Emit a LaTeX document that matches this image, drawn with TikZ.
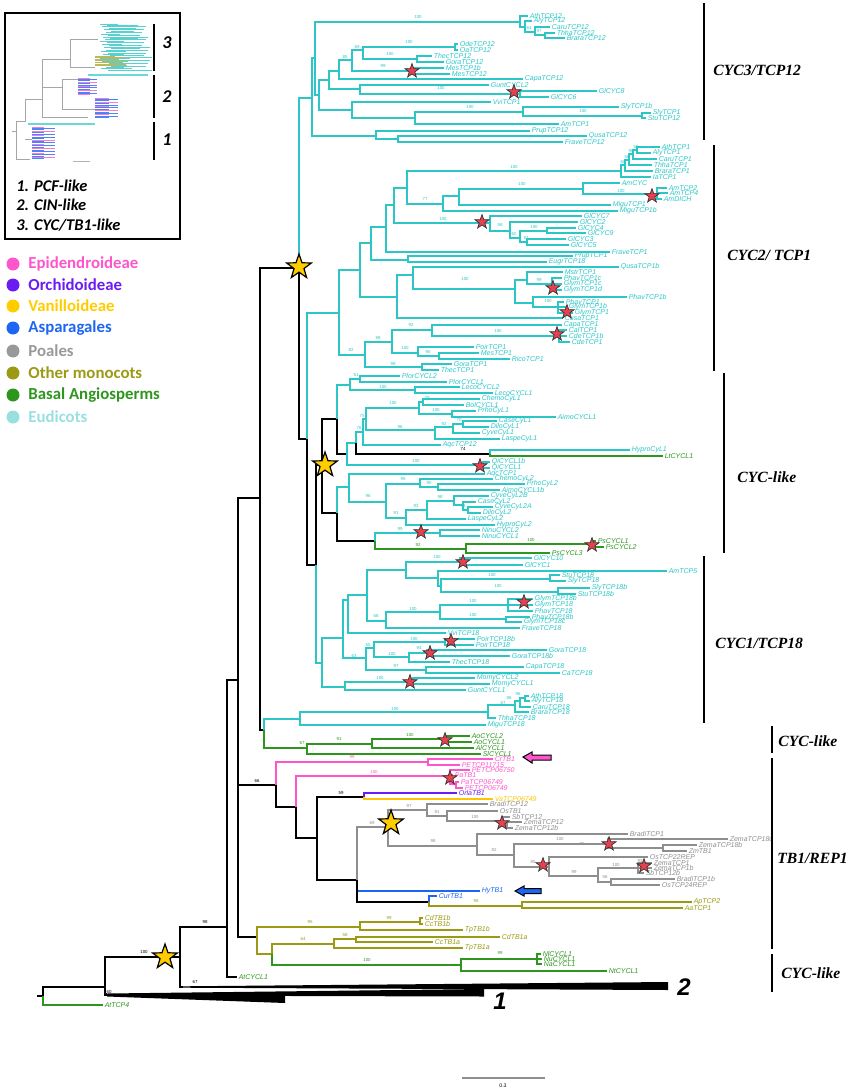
\documentclass[tikz,border=0pt]{standalone}
\usepackage{fontspec}
\setmainfont{Liberation Serif}
\setsansfont{Liberation Sans}
\newfontfamily\calib{Carlito}
\usetikzlibrary{shapes.geometric}
\definecolor{ccy}{HTML}{2CC6C6}
\definecolor{cgr}{HTML}{2E961E}
\definecolor{col}{HTML}{9C9A14}
\definecolor{cpk}{HTML}{FF55CC}
\definecolor{cpu}{HTML}{6A1CF2}
\definecolor{cgo}{HTML}{FFC400}
\definecolor{cbl}{HTML}{1C66F2}
\definecolor{cgy}{HTML}{8E8E8E}
\definecolor{ceu}{HTML}{9ADFDF}
\definecolor{cpoa}{HTML}{999999}
\definecolor{starred}{HTML}{E8404E}
\definecolor{staryel}{HTML}{FFCC00}
\newcount\bsc
\newcommand\TIn[5]{\coordinate (#1) at (#3,#4);\draw[br,draw=#5] (#2) |- (#1);}
\newcommand\TLf[6]{\coordinate (#1) at (#3,#4);\draw[br,draw=#5] (#2) |- (#1);\node[lab,text=#5] (#1t) at (#1) {#6};}
\newcommand\TBs[4]{\global\advance\bsc by 1\relax\node[bsl,text=#4] (bs\the\bsc) at (#1,#2) {#3};}
\newcommand\TRs[3]{\node[rstar] (#1) at (#2,#3) {};}
\newcommand\TYs[3]{\node[ystar] (#1) at (#2,#3) {};}
\tikzset{
 br/.style={line width=1.1pt},
 lab/.style={font=\sffamily\itshape\fontsize{3.5}{4}\selectfont, anchor=west, inner sep=0.7pt},
 bsl/.style={font=\sffamily\fontsize{2.2}{2.5}\selectfont, inner sep=0pt},
 rstar/.style={star, star points=5, star point ratio=2.5, fill=starred, draw=black!80, line width=0.35pt, minimum size=7.4pt, inner sep=0pt},
 ystar/.style={star, star points=5, star point ratio=2.5, fill=staryel, draw=black, line width=0.6pt, minimum size=13pt, inner sep=0pt},
 clade/.style={font=\rmfamily\bfseries\itshape\fontsize{7.8}{9}\selectfont, anchor=west, inner sep=0pt},
 cbar/.style={line width=1.3pt},
 legt/.style={font=\calib\bfseries\fontsize{8.4}{9}\selectfont, anchor=west, inner sep=0pt},
 inst/.style={font=\calib\bfseries\itshape\fontsize{8.2}{9}\selectfont, anchor=west, inner sep=0pt},
 bignum/.style={font=\sffamily\bfseries\itshape\fontsize{12}{13}\selectfont, inner sep=0pt},
}
\begin{document}
\begin{tikzpicture}[x=0.5pt,y=-0.5pt]
\useasboundingbox (0,0) rectangle (850,1091);
% ---------------- inset ----------------
\node[draw=black, line width=0.9pt, minimum width=87.5pt, minimum height=113pt, inner sep=0pt, anchor=north west] (inset) at (4,12) {};
\begin{scope}
\foreach \i in {0,...,32} {\pgfmathsetmacro\yy{24+\i*1.45}\pgfmathsetmacro\xs{100+mod(\i*7,12)}\pgfmathsetmacro\ll{18+mod(\i*13,30)}
 \draw[ccy!80, line width=0.45pt] (\xs,\yy) -- ++(\ll,0);}
\foreach \i in {0,...,6} {\pgfmathsetmacro\yy{56+\i*1.6}\pgfmathsetmacro\ll{20+mod(\i*11,18)}
 \draw[col!70, line width=0.45pt] (95,\yy) -- ++(\ll,0);}
\draw[ccy!70, line width=0.6pt] (88,75) -- (148,75);
\foreach \i in {0,...,12} {\pgfmathsetmacro\yy{78+\i*1.4}\pgfmathsetmacro\ll{12+mod(\i*7,14)}\pgfmathsetmacro\cc{mod(\i,3)}
 \ifdim\cc pt<1pt \draw[cpk!80, line width=0.45pt] (78,\yy) -- ++(\ll,0); \else \draw[cbl!80, line width=0.45pt] (78,\yy) -- ++(\ll,0); \fi}
\foreach \i in {0,...,14} {\pgfmathsetmacro\yy{98+\i*1.4}\pgfmathsetmacro\ll{14+mod(\i*9,18)}\pgfmathsetmacro\cc{mod(\i,3)}
 \ifdim\cc pt<1pt \draw[cpk!80, line width=0.45pt] (95,\yy) -- ++(\ll,0); \else \draw[cbl!80, line width=0.45pt] (95,\yy) -- ++(\ll,0); \fi}
\draw[ccy!70, line width=0.6pt] (28,124) -- (95,124);
\foreach \i in {0,...,22} {\pgfmathsetmacro\yy{127+\i*1.45}\pgfmathsetmacro\ll{12+mod(\i*11,22)}\pgfmathsetmacro\cc{mod(\i,3)}
 \ifdim\cc pt<1pt \draw[cpk!80, line width=0.45pt] (32,\yy) -- ++(\ll,0); \else \draw[cbl!80, line width=0.45pt] (32,\yy) -- ++(\ll,0); \fi}
\draw[gray!70, line width=0.5pt] (12,132) -- (16,132) (16,122) -- (16,160) (16,160) -- (30,160) (16,122) -- (25,122)
 (25,100) -- (25,122) (25,100) -- (42,100) (42,60) -- (42,118) (42,118) -- (88,118) (42,88) -- (62,88) (62,80) -- (62,110)
 (62,80) -- (78,80) (62,110) -- (95,110) (42,60) -- (70,60) (70,40) -- (70,68) (70,40) -- (98,40) (70,68) -- (95,68)
 (25,140) -- (32,140);
\draw[gray!60, line width=0.5pt] (73,162) -- (90,162);
\end{scope}
\coordinate (ib3a) at (154,24); \coordinate (ib3b) at (154,71);
\coordinate (ib2a) at (154,75); \coordinate (ib2b) at (154,118);
\coordinate (ib1a) at (154,122); \coordinate (ib1b) at (154,160);
\draw[line width=1pt] (ib3a) -- (ib3b); \draw[line width=1pt] (ib2a) -- (ib2b); \draw[line width=1pt] (ib1a) -- (ib1b);
\node[inst, font=\calib\bfseries\itshape\fontsize{9}{10}\selectfont] (in3) at (162,43) {3};
\node[inst, font=\calib\bfseries\itshape\fontsize{9}{10}\selectfont] (in2) at (162,97) {2};
\node[inst, font=\calib\bfseries\itshape\fontsize{9}{10}\selectfont] (in1) at (162,140) {1};
\node[inst] (it1) at (16,186) {1. PCF-like};
\node[inst] (it2) at (16,205) {2. CIN-like};
\node[inst] (it3) at (16,225) {3. CYC/TB1-like};
% ---------------- legend ----------------
\foreach \yy/\cc/\tt/\nm in {264/cpk/Epidendroideae/lg1, 285/cpu/Orchidoideae/lg2, 306/staryel/Vanilloideae/lg3, 328/cbl/Asparagales/lg4, 351/cpoa/Poales/lg5, 373/col/Other monocots/lg6, 395/cgr/Basal Angiosperms/lg7, 417/ceu/Eudicots/lg8} {
 \fill[\cc] (13,\yy) circle (6.5);
 \node[legt, text=\cc] (\nm) at (28,\yy) {\tt};
}
% ---------------- backbone ----------------
\coordinate (R0) at (43,996); \coordinate (R0s) at (37,996);
\draw[br] (R0s) -- (R0);
\TIn{N1}{R0}{105}{987}{black}
\TLf{AtTCP4}{R0}{103}{1005}{cgr}{AtTCP4}
\coordinate (W1) at (107,994.5);
\draw[br] (N1) |- (W1);
\fill (107,993.5) -- (484,989) -- (484,996.5) -- (107,995.5) -- cycle;
\fill (107,995) -- (285,994) -- (285,1003) -- (107,996.5) -- cycle;
\node[bignum] (n1lab) at (500,1001) {1};
\TIn{N3}{N1}{180}{957}{black}
\coordinate (W2) at (183,987);
\draw[br] (N3) |- (W2);
\fill (183,986.3) -- (668,982) -- (668,990) -- (183,987.7) -- cycle;
\node[bignum] (n2lab) at (684,987) {2};
\TIn{N4}{N3}{227}{927}{black}
\coordinate (AtCYCL1) at (237,977);
\draw[br] (N4) |- (AtCYCL1);
\node[lab,text=cgr] (AtCYCL1t) at (AtCYCL1) {AtCYCL1};
\TIn{N5}{N4}{238}{680}{black}
\TIn{N6}{N5}{260}{498}{black}
\TIn{N7}{N5}{276}{785}{black}
\TIn{N8}{N5}{257}{937}{black}
\TIn{N9}{N6}{299}{268}{black}
\TIn{N10}{N6}{264}{730}{black}
\TIn{R3}{N9}{312}{98}{ccy}
\TIn{N11}{N9}{307}{439}{black}
\TIn{C2}{N11}{339}{313}{ccy}
\TIn{N12}{N11}{316}{565}{black}
\TIn{N13}{N12}{322}{465}{black}
\TIn{N14}{N12}{322}{663}{ccy}
\TBs{205}{922}{98}{black}\TBs{144}{952}{100}{black}\TBs{195}{982}{67}{black}\TBs{109}{992}{60}{black}
\TBs{257}{781}{66}{black}\TBs{341}{793}{59}{black}\TBs{463}{449}{74}{black}
% ---------------- CYC3/TCP12 ----------------
\TIn{Q1}{R3}{315}{58}{ccy}
\TIn{T1}{Q1}{520}{22}{ccy}
\TLf{AthTCP12}{T1}{528}{16}{ccy}{AthTCP12}
\TIn{T1b}{T1}{525}{27}{ccy}
\TLf{AlyTCP12}{T1b}{532}{21}{ccy}{AlyTCP12}
\TIn{T1c}{T1b}{535}{32}{ccy}
\TLf{CaruTCP12}{T1c}{550}{27}{ccy}{CaruTCP12}
\TIn{T1d}{T1c}{545}{35}{ccy}
\TLf{ThhaTCP12}{T1d}{555}{33}{ccy}{ThhaTCP12}
\TLf{BraraTCP12}{T1d}{565}{38}{ccy}{BraraTCP12}
\TIn{M}{Q1}{319}{95}{ccy}
\TIn{A}{M}{329}{80}{ccy}
\TIn{A1}{A}{339}{71}{ccy}
\TIn{A11}{A1}{352}{60}{ccy}
\TIn{A111}{A11}{363}{50}{ccy}
\TIn{Ode}{A111}{455}{47}{ccy}
\TLf{OdeTCP12}{Ode}{458}{44}{ccy}{OdeTCP12}
\TLf{OaTCP12}{Ode}{458}{50}{ccy}{OaTCP12}
\TIn{Thec}{A111}{417}{59}{ccy}
\TLf{ThecTCP12}{Thec}{432}{56}{ccy}{ThecTCP12}
\TLf{GoraTCP12}{Thec}{444}{62}{ccy}{GoraTCP12}
\TIn{Mes}{A11}{412}{71}{ccy}
\TLf{MesTCP1b}{Mes}{444}{68}{ccy}{MesTCP1b}
\TLf{MesTCP12}{Mes}{450}{74}{ccy}{MesTCP12}
\TLf{CapaTCP12}{A1}{523}{79}{ccy}{CapaTCP12}
\TIn{A2}{A}{360}{89}{ccy}
\TLf{GuntCYCL2}{A2}{489}{85}{ccy}{GuntCYCL2}
\TIn{Gl3}{A2}{520}{94}{ccy}
\TLf{GlCYC8}{Gl3}{597}{91}{ccy}{GlCYC8}
\TLf{GlCYC6}{Gl3}{549}{97}{ccy}{GlCYC6}
\TIn{B}{M}{352}{110}{ccy}
\TLf{VviTCP1}{B}{491}{102}{ccy}{VviTCP1}
\TIn{B2}{B}{415}{118}{ccy}
\TIn{B21}{B2}{523}{112}{ccy}
\TLf{SlyTCP1b}{B21}{619}{107}{ccy}{SlyTCP1b}
\TIn{B211}{B21}{642}{116}{ccy}
\TLf{SlyTCP1}{B211}{651}{113}{ccy}{SlyTCP1}
\TLf{StuTCP12}{B211}{646}{118}{ccy}{StuTCP12}
\TLf{AmTCP1}{B2}{559}{124}{ccy}{AmTCP1}
\TIn{P}{R3}{376}{136}{ccy}
\TLf{PrupTCP12}{P}{530}{131}{ccy}{PrupTCP12}
\TIn{P2}{P}{398}{139}{ccy}
\TLf{QusaTCP12}{P2}{587}{136}{ccy}{QusaTCP12}
\TLf{FraveTCP12}{P2}{563}{142}{ccy}{FraveTCP12}
\TBs{418}{17}{100}{ccy}\TBs{345}{57}{85}{ccy}\TBs{357}{47}{69}{ccy}\TBs{409}{42}{100}{ccy}\TBs{390}{54}{100}{ccy}
\TBs{383}{66}{99}{ccy}\TBs{441}{88}{100}{ccy}\TBs{470}{107}{100}{ccy}\TBs{583}{111}{100}{ccy}\TBs{529}{28}{64}{ccy}\TBs{539}{31}{97}{ccy}
% ---------------- CYC2/TCP1 ----------------
\TIn{C2a}{C2}{360}{270}{ccy}
\TIn{C2a1}{C2a}{371}{243}{ccy}
\TIn{C2a11}{C2a1}{386}{227}{ccy}
\TIn{C2a111}{C2a11}{394}{205}{ccy}
\TIn{C3x}{C2a111}{407}{188}{ccy}
\TIn{AthG}{C3x}{621}{171}{ccy}
\TIn{Ra}{AthG}{625}{165}{ccy}
\TIn{Rb}{Ra}{629}{160}{ccy}
\TIn{Rc}{Rb}{633}{154}{ccy}
\TIn{Rd}{Rc}{637}{150}{ccy}
\TLf{AthTCP1}{Rd}{660}{147}{ccy}{AthTCP1}
\TLf{AlyTCP1}{Rd}{651}{153}{ccy}{AlyTCP1}
\TLf{CaruTCP1}{Rc}{657}{159}{ccy}{CaruTCP1}
\TLf{ThhaTCP1}{Rb}{652}{165}{ccy}{ThhaTCP1}
\TLf{BraraTCP1}{Ra}{653}{171}{ccy}{BraraTCP1}
\TLf{IaTCP1}{AthG}{651}{177}{ccy}{IaTCP1}
\TIn{AmG}{C3x}{443}{204}{ccy}
\TIn{Am1}{AmG}{459}{196}{ccy}
\TIn{Am2}{Am1}{583}{189}{ccy}
\TLf{AmCYC}{Am2}{620}{183}{ccy}{AmCYC}
\TIn{Am3}{Am2}{657}{194}{ccy}
\TLf{AmTCP2}{Am3}{667}{188}{ccy}{AmTCP2}
\TLf{AmTCP4}{Am3}{668}{193}{ccy}{AmTCP4}
\TLf{AmDICH}{Am3}{662}{199}{ccy}{AmDICH}
\TLf{MiguTCP1}{Am1}{611}{205}{ccy}{MiguTCP1}
\TLf{MiguTCP1b}{AmG}{618}{211}{ccy}{MiguTCP1b}
\TIn{Gl}{C2a111}{490}{223}{ccy}
\TLf{GlCYC7}{Gl}{582}{216}{ccy}{GlCYC7}
\TIn{G2}{Gl}{510}{231}{ccy}
\TLf{GlCYC2}{G2}{578}{222}{ccy}{GlCYC2}
\TIn{G2y}{G2}{520}{238}{ccy}
\TIn{G2b}{G2y}{547}{231}{ccy}
\TLf{GlCYC4}{G2b}{576}{228}{ccy}{GlCYC4}
\TLf{GlCYC9}{G2b}{586}{233}{ccy}{GlCYC9}
\TIn{G2c}{G2y}{527}{242}{ccy}
\TLf{GlCYC3}{G2c}{566}{239}{ccy}{GlCYC3}
\TLf{GlCYC5}{G2c}{569}{245}{ccy}{GlCYC5}
\TLf{FraveTCP1}{C2a11}{610}{252}{ccy}{FraveTCP1}
\TIn{Pr}{C2a1}{408}{260}{ccy}
\TLf{PrupTCP1}{Pr}{573}{256}{ccy}{PrupTCP1}
\TLf{EugrTCP18}{Pr}{547}{262}{ccy}{EugrTCP18}
\TIn{C2a2}{C2a}{397}{297}{ccy}
\TIn{Q}{C2a2}{413}{275}{ccy}
\TLf{QusaTCP1b}{Q}{619}{267}{ccy}{QusaTCP1b}
\TIn{F}{Q}{515}{289}{ccy}
\TIn{F1}{F}{527}{280}{ccy}
\TLf{MstrTCP1}{F1}{563}{272}{ccy}{MstrTCP1}
\TIn{F11}{F1}{552}{284}{ccy}
\TLf{PhavTCP1c}{F11}{562}{278}{ccy}{PhavTCP1c}
\TLf{GlymTCP1c}{F11}{562}{284}{ccy}{GlymTCP1c}
\TLf{GlymTCP1d}{F11}{562}{290}{ccy}{GlymTCP1d}
\TIn{F2}{F}{533}{303}{ccy}
\TLf{PhavTCP1b}{F2}{627}{297}{ccy}{PhavTCP1b}
\TIn{F21}{F2}{558}{307}{ccy}
\TLf{PhavTCP1}{F21}{564}{302}{ccy}{PhavTCP1}
\TLf{GlymTCP1b}{F21}{567}{307}{ccy}{GlymTCP1b}
\TLf{GlymTCP1}{F21}{573}{313}{ccy}{GlymTCP1}
\TLf{CusaTCP1}{C2a2}{563}{318}{ccy}{CusaTCP1}
\TIn{C2b}{C2}{365}{355}{ccy}
\TIn{C2b1}{C2b}{392}{342}{ccy}
\TIn{Cp}{C2b1}{432}{330}{ccy}
\TLf{CapaTCP1}{Cp}{562}{325}{ccy}{CapaTCP1}
\TIn{Cal}{Cp}{559}{336}{ccy}
\TLf{CalTCP1}{Cal}{567}{330}{ccy}{CalTCP1}
\TLf{CdeTCP1b}{Cal}{567}{336}{ccy}{CdeTCP1b}
\TLf{CdeTCP1}{Cal}{570}{342}{ccy}{CdeTCP1}
\TIn{Po}{C2b1}{418}{353}{ccy}
\TLf{PoirTCP1}{Po}{474}{347}{ccy}{PoirTCP1}
\TIn{Po2}{Po}{439}{356}{ccy}
\TLf{MesTCP1}{Po2}{479}{353}{ccy}{MesTCP1}
\TLf{RicoTCP1}{Po2}{510}{359}{ccy}{RicoTCP1}
\TIn{C2b2}{C2b}{422}{367}{ccy}
\TLf{GoraTCP1}{C2b2}{452}{364}{ccy}{GoraTCP1}
\TLf{ThecTCP1}{C2b2}{439}{370}{ccy}{ThecTCP1}
\TBs{514}{167}{100}{ccy}\TBs{425}{199}{77}{ccy}\TBs{522}{184}{100}{ccy}\TBs{621}{191}{100}{ccy}\TBs{443}{219}{100}{ccy}
\TBs{500}{225}{58}{ccy}\TBs{514}{234}{60}{ccy}\TBs{526}{238}{97}{ccy}\TBs{534}{227}{100}{ccy}\TBs{465}{279}{100}{ccy}
\TBs{539}{280}{99}{ccy}\TBs{548}{301}{100}{ccy}\TBs{411}{325}{92}{ccy}\TBs{498}{331}{100}{ccy}\TBs{378}{338}{98}{ccy}
\TBs{351}{350}{82}{ccy}\TBs{405}{348}{100}{ccy}\TBs{428}{352}{95}{ccy}\TBs{393}{364}{99}{ccy}
\TBs{623}{162}{60}{ccy}\TBs{627}{157}{58}{ccy}\TBs{631}{151}{98}{ccy}\TBs{636}{147}{55}{ccy}
% ---------------- CYC-like 1 ----------------
\TIn{N15}{N13}{337}{419}{black}
\TIn{N16}{N13}{337}{513}{black}
\TIn{P1}{N15}{350}{385}{ccy}
\TIn{P11}{P1}{360}{379}{ccy}
\TLf{PlorCYCL2}{P11}{400}{376}{ccy}{PlorCYCL2}
\TLf{PlorCYCL1}{P11}{447}{382}{ccy}{PlorCYCL1}
\TIn{P12}{P1}{415}{390}{ccy}
\TLf{LecoCYCL2}{P12}{460}{387}{ccy}{LecoCYCL2}
\TLf{LecoCYCL1}{P12}{493}{393}{ccy}{LecoCYCL1}
\TIn{N18}{N15}{347}{454}{black}
\TIn{N19}{N18}{356}{443}{ccy}
\TIn{N20}{N19}{363}{432}{ccy}
\TIn{N20a}{N20}{366}{419}{ccy}
\TIn{Ch}{N20a}{419}{408}{ccy}
\TIn{Ch1}{Ch}{423}{402}{ccy}
\TLf{ChemoCyL1}{Ch1}{480}{399}{ccy}{ChemoCyL1}
\TLf{BolCYCL1}{Ch1}{464}{405}{ccy}{BolCYCL1}
\TIn{Ch2}{Ch}{452}{414}{ccy}
\TLf{PrhoCyL1}{Ch2}{476}{411}{ccy}{PrhoCyL1}
\TLf{AimoCYCL1}{Ch2}{556}{417}{ccy}{AimoCYCL1}
\TIn{Cs}{N20a}{435}{430}{ccy}
\TIn{Cs1}{Cs}{453}{427}{ccy}
\TIn{Cs2}{Cs1}{463}{424}{ccy}
\TLf{CaseCyL1}{Cs2}{497}{421}{ccy}{CaseCyL1}
\TLf{DiloCyL1}{Cs2}{489}{427}{ccy}{DiloCyL1}
\TLf{CyveCyL1}{Cs1}{480}{433}{ccy}{CyveCyL1}
\TLf{LaspeCyL1}{Cs}{500}{439}{ccy}{LaspeCyL1}
\TLf{AqcTCP12}{N20}{441}{445}{ccy}{AqcTCP12}
\TIn{HL}{N19}{490}{454}{black}
\TLf{HyproCyL1}{HL}{630}{450}{ccy}{HyproCyL1}
\TLf{LtCYCL1}{HL}{663}{456}{cgr}{LtCYCL1}
\TIn{Qi}{N18}{483}{465}{ccy}
\TLf{QiCYCL1b}{Qi}{490}{462}{ccy}{QiCYCL1b}
\TLf{QiCYCL1}{Qi}{490}{468}{ccy}{QiCYCL1}
\TIn{N22}{N16}{349}{487}{ccy}
\TLf{AqcTCP1}{N22}{485}{474}{ccy}{AqcTCP1}
\TIn{N24}{N22}{386}{502}{ccy}
\TIn{N25}{N24}{420}{484}{ccy}
\TLf{ChemoCyL2}{N25}{493}{479}{ccy}{ChemoCyL2}
\TIn{N25b}{N25}{438}{487}{ccy}
\TLf{PrhoCyL2}{N25b}{525}{484}{ccy}{PrhoCyL2}
\TLf{AimoCYCL1b}{N25b}{500}{490}{ccy}{AimoCYCL1b}
\TIn{N26}{N24}{406}{518}{ccy}
\TIn{N27}{N26}{427}{510}{ccy}
\TIn{N28}{N27}{454}{501}{ccy}
\TLf{CyveCyL2B}{N28}{489}{496}{ccy}{CyveCyL2B}
\TIn{N29}{N28}{463}{505}{ccy}
\TLf{CaseCyL2}{N29}{476}{502}{ccy}{CaseCyL2}
\TIn{N30}{N29}{468}{510}{ccy}
\TLf{CyveCyL2A}{N30}{493}{507}{ccy}{CyveCyL2A}
\TLf{DiloCyL2}{N30}{481}{513}{ccy}{DiloCyL2}
\TLf{LaspeCyL2}{N27}{466}{519}{ccy}{LaspeCyL2}
\TLf{HyproCyL2}{N26}{495}{525}{ccy}{HyproCyL2}
\TIn{N23}{N16}{375}{541}{black}
\TIn{Ninu}{N23}{440}{533}{ccy}
\TLf{NinuCYCL2}{Ninu}{480}{530}{ccy}{NinuCYCL2}
\TLf{NinuCYCL1}{Ninu}{480}{536}{ccy}{NinuCYCL1}
\TIn{Ps}{N23}{466}{549}{cgr}
\TIn{Ps1}{Ps}{593}{544}{cgr}
\TLf{PsCYCL1}{Ps1}{596}{541}{cgr}{PsCYCL1}
\TLf{PsCYCL2}{Ps1}{604}{547}{cgr}{PsCYCL2}
\TLf{PsCYCL3}{Ps}{550}{553}{cgr}{PsCYCL3}
\TBs{356}{375}{51}{ccy}\TBs{383}{387}{100}{ccy}\TBs{393}{403}{100}{ccy}\TBs{427}{398}{79}{ccy}\TBs{436}{410}{100}{ccy}
\TBs{362}{416}{75}{ccy}\TBs{359}{428}{76}{ccy}\TBs{400}{427}{96}{ccy}\TBs{444}{424}{92}{ccy}\TBs{459}{420}{70}{ccy}
\TBs{416}{461}{100}{ccy}\TBs{403}{479}{95}{ccy}\TBs{429}{483}{90}{ccy}\TBs{368}{496}{96}{ccy}\TBs{440}{497}{98}{ccy}
\TBs{416}{506}{93}{ccy}\TBs{463}{506}{73}{ccy}\TBs{396}{513}{91}{ccy}\TBs{400}{529}{99}{ccy}\TBs{418}{545}{92}{cgr}\TBs{531}{540}{100}{cgr}
% ---------------- CYC1/TCP18 ----------------
\TIn{N31}{N14}{343}{638}{ccy}
\TIn{N33}{N31}{348}{600}{ccy}
\TIn{N35}{N33}{367}{595}{ccy}
\TIn{N36}{N35}{406}{570}{ccy}
\TIn{GlC}{N36}{460}{562}{ccy}
\TLf{GlCYC10}{GlC}{532}{558}{ccy}{GlCYC10}
\TLf{GlCYC1}{GlC}{523}{565}{ccy}{GlCYC1}
\TIn{N38}{N36}{438}{578}{ccy}
\TLf{AmTCP5}{N38}{667}{571}{ccy}{AmTCP5}
\TIn{N39}{N38}{441}{586}{ccy}
\TIn{StuA}{N39}{550}{579}{ccy}
\TLf{StuTCP18}{StuA}{560}{575}{ccy}{StuTCP18}
\TLf{SlyTCP18}{StuA}{566}{581}{ccy}{SlyTCP18}
\TIn{SlyB}{N39}{558}{592}{ccy}
\TLf{SlyTCP18b}{SlyB}{590}{588}{ccy}{SlyTCP18b}
\TLf{StuTCP18b}{SlyB}{576}{594}{ccy}{StuTCP18b}
\TIn{N37}{N35}{386}{621}{ccy}
\TIn{N40}{N37}{440}{612}{ccy}
\TIn{N41}{N40}{508}{605}{ccy}
\TLf{GlymTCP18b}{N41}{533}{599}{ccy}{GlymTCP18b}
\TLf{GlymTCP18}{N41}{533}{605}{ccy}{GlymTCP18}
\TLf{PhavTCP18}{N41}{533}{611}{ccy}{PhavTCP18}
\TIn{N42}{N40}{506}{619}{ccy}
\TLf{PhavTCP18b}{N42}{530}{617}{ccy}{PhavTCP18b}
\TLf{GlymTCP18c}{N42}{522}{622}{ccy}{GlymTCP18c}
\TLf{FraveTCP18}{N37}{520}{628}{ccy}{FraveTCP18}
\TLf{VviTCP18}{N33}{446}{633}{ccy}{VviTCP18}
\TIn{N34}{N31}{366}{658}{ccy}
\TIn{N43}{N34}{374}{648}{ccy}
\TIn{N45}{N43}{445}{642}{ccy}
\TLf{PoirTCP18b}{N45}{475}{639}{ccy}{PoirTCP18b}
\TLf{PoirTCP18}{N45}{474}{645}{ccy}{PoirTCP18}
\TIn{N46}{N43}{409}{657}{ccy}
\TIn{N47}{N46}{427}{653}{ccy}
\TLf{GoraTCP18}{N47}{547}{650}{ccy}{GoraTCP18}
\TLf{GoraTCP18b}{N47}{510}{656}{ccy}{GoraTCP18b}
\TLf{ThecTCP18}{N46}{450}{662}{ccy}{ThecTCP18}
\TIn{N44}{N34}{426}{670}{ccy}
\TLf{CapaTCP18}{N44}{524}{667}{ccy}{CapaTCP18}
\TLf{CaTCP18}{N44}{560}{673}{ccy}{CaTCP18}
\TIn{N32}{N14}{345}{687}{ccy}
\TIn{Mo}{N32}{413}{682}{ccy}
\TLf{MomyCYCL2}{Mo}{475}{678}{ccy}{MomyCYCL2}
\TLf{MomyCYCL1}{Mo}{490}{684}{ccy}{MomyCYCL1}
\TLf{GuntCYCL1}{N32}{466}{690}{ccy}{GuntCYCL1}
\TIn{A18}{N10}{300}{719}{ccy}
\TIn{Ath18}{A18}{488}{712}{ccy}
\TIn{B1}{Ath18}{515}{705}{ccy}
\TIn{B2x}{B1}{520}{701}{ccy}
\TIn{B3}{B2x}{525}{698}{ccy}
\TLf{AthTCP18}{B3}{529}{696}{ccy}{AthTCP18}
\TLf{AlyTCP18}{B3}{530}{701}{ccy}{AlyTCP18}
\TLf{CaruTCP18}{B2x}{531}{707}{ccy}{CaruTCP18}
\TLf{BraraTCP18}{B1}{529}{712}{ccy}{BraraTCP18}
\TLf{ThhaTCP18}{Ath18}{496}{718}{ccy}{ThhaTCP18}
\TLf{MiguTCP18}{A18}{486}{725}{ccy}{MiguTCP18}
\TBs{437}{557}{100}{ccy}\TBs{492}{575}{100}{ccy}\TBs{498}{586}{100}{ccy}\TBs{473}{601}{100}{ccy}\TBs{413}{609}{100}{ccy}
\TBs{473}{615}{100}{ccy}\TBs{376}{616}{68}{ccy}\TBs{354}{656}{63}{ccy}\TBs{368}{645}{65}{ccy}\TBs{414}{639}{100}{ccy}
\TBs{419}{648}{94}{ccy}\TBs{392}{654}{100}{ccy}\TBs{396}{666}{97}{ccy}\TBs{380}{678}{100}{ccy}\TBs{395}{709}{100}{ccy}
\TBs{503}{703}{67}{ccy}\TBs{509}{698}{86}{ccy}\TBs{518}{694}{96}{ccy}
% ---------------- green CYC-like ----------------
\TIn{Ao}{N10}{307}{748}{cgr}
\TIn{Ao1}{Ao}{372}{744}{cgr}
\TIn{Ao2}{Ao1}{445}{739}{cgr}
\TLf{AoCYCL2}{Ao2}{470}{736}{cgr}{AoCYCL2}
\TLf{AoCYCL1}{Ao2}{472}{742}{cgr}{AoCYCL1}
\TLf{AlCYCL1}{Ao1}{474}{748}{cgr}{AlCYCL1}
\TLf{SlCYCL1}{Ao}{481}{754}{cgr}{SlCYCL1}
\TBs{302}{743}{67}{cgr}\TBs{339}{739}{91}{cgr}\TBs{410}{735}{100}{cgr}
% ---------------- TB1 / orchids ----------------
\TIn{Pk1}{N7}{428}{762}{cpk}
\TLf{CrTB1}{Pk1}{493}{759}{cpk}{CrTB1}
\TLf{PETCP11715}{Pk1}{460}{765}{cpk}{PETCP11715}
\TIn{N48}{N7}{296}{807}{black}
\TIn{Pk2}{N48}{450}{776}{cpk}
\TLf{PETCP06750}{Pk2}{470}{770}{cpk}{PETCP06750}
\TLf{PaTB1}{Pk2}{453}{775}{cpk}{PaTB1}
\TIn{Pk3}{Pk2}{456}{784}{cpk}
\TLf{PaTCP06749}{Pk3}{459}{782}{cpk}{PaTCP06749}
\TLf{PETCP06749}{Pk3}{463}{788}{cpk}{PETCP06749}
\TIn{N49}{N48}{317}{838}{black}
\TIn{Or}{N49}{364}{797}{black}
\TLf{OrlaTB1}{Or}{457}{793}{cpu}{OrlaTB1}
\TLf{VaTCP06749}{Or}{493}{799}{cgo}{VaTCP06749}
\TIn{N50}{N49}{357}{880}{black}
\TIn{G0}{N50}{388}{827}{cgy}
\TIn{Gt}{G0}{427}{810}{cgy}
\TLf{BradiTCP12}{Gt}{488}{804}{cgy}{BradiTCP12}
\TIn{Gt1}{Gt}{447}{816}{cgy}
\TLf{OsTB1}{Gt1}{498}{811}{cgy}{OsTB1}
\TIn{Gt2}{Gt1}{503}{821}{cgy}
\TLf{SbTCP12}{Gt2}{510}{817}{cgy}{SbTCP12}
\TIn{Gt3}{Gt2}{507}{825}{cgy}
\TLf{ZemaTCP12}{Gt3}{522}{822}{cgy}{ZemaTCP12}
\TLf{ZemaTCP12b}{Gt3}{513}{828}{cgy}{ZemaTCP12b}
\TIn{Gb}{G0}{477}{846}{cgy}
\TLf{BradiTCP1}{Gb}{628}{834}{cgy}{BradiTCP1}
\TIn{Gb1}{Gb}{514}{855}{cgy}
\TIn{Gb2}{Gb1}{608}{844}{cgy}
\TLf{ZemaTCP18c}{Gb2}{728}{839}{cgy}{ZemaTCP18c}
\TIn{Gb21}{Gb2}{663}{848}{cgy}
\TLf{ZemaTCP18b}{Gb21}{697}{845}{cgy}{ZemaTCP18b}
\TLf{ZmTB1}{Gb21}{687}{851}{cgy}{ZmTB1}
\TIn{Gb3}{Gb1}{549}{867}{cgy}
\TLf{OsTCP22REP}{Gb3}{648}{857}{cgy}{OsTCP22REP}
\TIn{Gb4}{Gb3}{598}{876}{cgy}
\TIn{Gb5}{Gb4}{638}{868}{cgy}
\TLf{ZemaTCP1}{Gb5}{652}{863}{cgy}{ZemaTCP1}
\TLf{ZemaTCP1b}{Gb5}{652}{868}{cgy}{ZemaTCP1b}
\TLf{SbTCP12b}{Gb5}{644}{873}{cgy}{SbTCP12b}
\TIn{Gb6}{Gb4}{611}{882}{cgy}
\TLf{BradiTCP1b}{Gb6}{675}{879}{cgy}{BradiTCP1b}
\TLf{OsTCP24REP}{Gb6}{660}{885}{cgy}{OsTCP24REP}
\TLf{HyTB1}{N50}{480}{891}{cbl}{HyTB1}
\TIn{N51}{N50}{429}{902}{black}
\TLf{CurTB1}{N51}{437}{896}{cbl}{CurTB1}
\TIn{Ap}{N51}{522}{906}{col}
\TLf{ApTCP2}{Ap}{692}{902}{col}{ApTCP2}
\TLf{AaTCP1}{Ap}{683}{908}{col}{AaTCP1}
\TBs{352}{757}{99}{cpk}\TBs{374}{772}{100}{cpk}
\TBs{372}{823}{69}{cgy}\TBs{409}{806}{97}{cgy}\TBs{437}{812}{91}{cgy}\TBs{475}{817}{100}{cgy}\TBs{433}{841}{98}{cgy}
\TBs{560}{839}{100}{cgy}\TBs{582}{844}{96}{cgy}\TBs{494}{850}{82}{cgy}\TBs{533}{862}{85}{cgy}\TBs{574}{872}{99}{cgy}
\TBs{616}{865}{100}{cgy}\TBs{640}{861}{93}{cgy}\TBs{605}{877}{56}{cgy}\TBs{476}{901}{95}{col}
% ---------------- monocot CYC-like ----------------
\TIn{O1}{N8}{360}{927}{col}
\TIn{O11}{O1}{420}{922}{col}
\TLf{CdTB1b}{O11}{423}{918}{col}{CdTB1b}
\TLf{CcTB1b}{O11}{423}{924}{col}{CcTB1b}
\TLf{TpTB1b}{O1}{463}{930}{col}{TpTB1b}
\TIn{O2}{N8}{272}{954}{col}
\TIn{O21}{O2}{334}{944}{col}
\TIn{O211}{O21}{356}{939}{col}
\TLf{CdTB1a}{O211}{500}{937}{col}{CdTB1a}
\TLf{CcTB1a}{O211}{433}{942}{col}{CcTB1a}
\TLf{TpTB1a}{O21}{463}{948}{col}{TpTB1a}
\TIn{O22}{O2}{461}{965}{cgr}
\TIn{O221}{O22}{537}{959}{cgr}
\TLf{NlCYCL1}{O221}{541}{954}{cgr}{NlCYCL1}
\TLf{NuCYCL1}{O221}{542}{959}{cgr}{NuCYCL1}
\TLf{NaCYCL1}{O221}{542}{964}{cgr}{NaCYCL1}
\TLf{NtCYCL1}{O22}{607}{971}{cgr}{NtCYCL1}
\TBs{310}{922}{95}{col}\TBs{389}{918}{99}{col}\TBs{303}{939}{64}{col}\TBs{345}{935}{58}{col}\TBs{367}{960}{100}{cgr}\TBs{500}{953}{99}{cgr}
% ---------------- arrows ----------------
\fill[cpk, draw=black, line width=0.5pt] (523,757) -- (532,752) -- (532,755) -- (551,755) -- (551,760) -- (532,760) -- (532,763) -- cycle;
\node[inner sep=0pt] (pkarrow) at (537,757) {};
\fill[cbl, draw=black, line width=0.5pt] (515,891) -- (524,886) -- (524,888.5) -- (541,888.5) -- (541,893.5) -- (524,893.5) -- (524,896) -- cycle;
\node[inner sep=0pt] (blarrow) at (528,891) {};
% ---------------- stars ----------------
\TRs{rs1}{412}{71}\TRs{rs2}{514}{92}\TRs{rs3}{652}{196}\TRs{rs4}{482}{222}\TRs{rs5}{553}{288}\TRs{rs6}{567}{312}
\TRs{rs7}{557}{334}\TRs{rs8}{480}{466}\TRs{rs9}{421}{532}\TRs{rs10}{592}{545}\TRs{rs11}{463}{562}\TRs{rs12}{524}{602}
\TRs{rs13}{451}{641}\TRs{rs14}{430}{653}\TRs{rs15}{410}{682}\TRs{rs16}{445}{740}\TRs{rs17}{450}{778}\TRs{rs18}{502}{823}
\TRs{rs19}{609}{844}\TRs{rs20}{543}{865}\TRs{rs21}{644}{866}
\TYs{ys1}{299}{267}\TYs{ys2}{325}{465}\TYs{ys3}{391}{823}\TYs{ys4}{165}{957}
% ---------------- clade bars ----------------
\coordinate (cb1a) at (704,3); \coordinate (cb1b) at (704,140);
\draw[cbar] (cb1a) -- (cb1b); \node[clade] (cl1) at (713,70) {CYC3/TCP12};
\coordinate (cb2a) at (714,145); \coordinate (cb2b) at (714,371);
\draw[cbar] (cb2a) -- (cb2b); \node[clade] (cl2) at (727,255) {CYC2/ TCP1};
\coordinate (cb3a) at (724,373); \coordinate (cb3b) at (724,553);
\draw[cbar] (cb3a) -- (cb3b); \node[clade] (cl3) at (737,477) {CYC-like};
\coordinate (cb4a) at (704,556); \coordinate (cb4b) at (704,723);
\draw[cbar] (cb4a) -- (cb4b); \node[clade] (cl4) at (715,643) {CYC1/TCP18};
\coordinate (cb5a) at (772,726); \coordinate (cb5b) at (772,753);
\draw[cbar] (cb5a) -- (cb5b); \node[clade] (cl5) at (778,741) {CYC-like};
\coordinate (cb6a) at (772,758); \coordinate (cb6b) at (772,949);
\draw[cbar] (cb6a) -- (cb6b); \node[clade] (cl6) at (777,858) {TB1/REP1};
\coordinate (cb7a) at (772,954); \coordinate (cb7b) at (772,992);
\draw[cbar] (cb7a) -- (cb7b); \node[clade] (cl7) at (781,973) {CYC-like};
% ---------------- scale bar ----------------
\coordinate (sb1) at (462,1078); \coordinate (sb2) at (545,1078);
\draw[cgy, line width=0.7pt] (sb1) -- (sb2);
\node[font=\sffamily\fontsize{2.6}{3}\selectfont, inner sep=0pt] (sbt) at (503,1086) {0.3};
\end{tikzpicture}
\end{document}
